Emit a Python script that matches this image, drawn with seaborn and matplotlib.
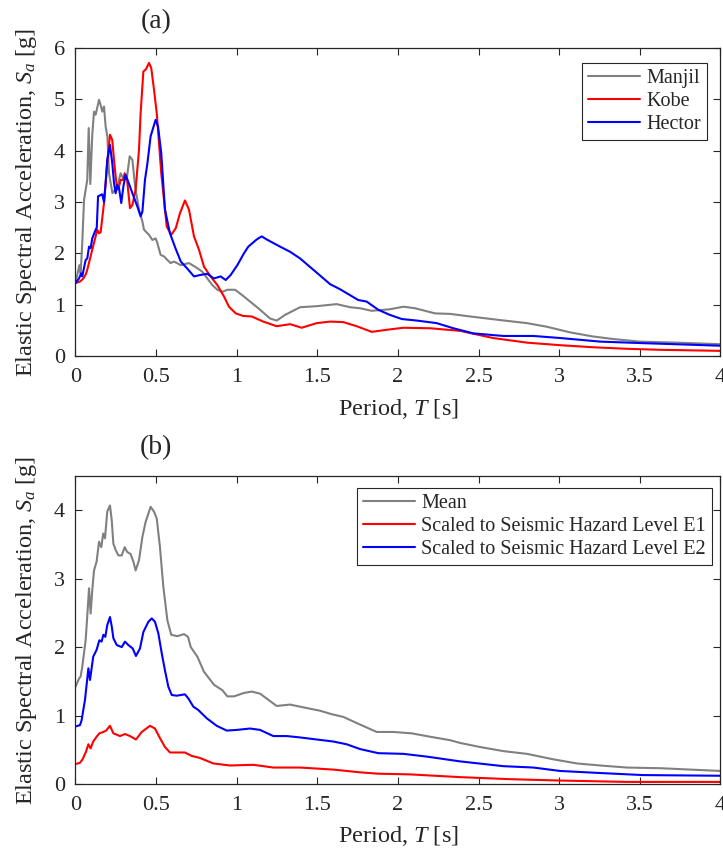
import numpy as np
import pandas as pd
import seaborn as sns
import matplotlib.pyplot as plt
from matplotlib.ticker import FixedLocator

# ---- panel (a): individual records ----
manjil_t = [0.0, 0.024, 0.032, 0.042, 0.053, 0.073, 0.082, 0.092, 0.104, 0.115, 0.125,
            0.146, 0.156, 0.166, 0.177, 0.187, 0.198, 0.208, 0.229, 0.26, 0.28, 0.30,
            0.32, 0.336, 0.353, 0.37, 0.394, 0.415, 0.425, 0.456, 0.477, 0.497, 0.508,
            0.528, 0.549, 0.57, 0.59, 0.611, 0.653, 0.704, 0.756, 0.787, 0.818, 0.849,
            0.88, 0.911, 0.942, 0.99, 1.04, 1.134, 1.207, 1.248, 1.30, 1.393, 1.496,
            1.558, 1.62, 1.703, 1.765, 1.837, 1.95, 2.034, 2.106, 2.23, 2.323, 2.447,
            2.633, 2.80, 2.923, 3.068, 3.21, 3.336, 3.50, 3.73, 4.0]
manjil_sa = [1.42, 1.77, 1.61, 2.20, 3.04, 3.43, 4.44, 3.35, 4.30, 4.76, 4.70,
             4.99, 4.89, 4.76, 4.86, 4.47, 4.27, 3.56, 3.17, 3.30, 3.56, 3.43,
             3.50, 3.89, 3.82, 3.30, 2.85, 2.62, 2.46, 2.36, 2.26, 2.29, 2.20,
             1.97, 1.94, 1.87, 1.81, 1.84, 1.77, 1.81, 1.71, 1.64, 1.51, 1.38,
             1.29, 1.25, 1.29, 1.29, 1.17, 0.93, 0.73, 0.69, 0.80, 0.95, 0.97,
             0.99, 1.01, 0.95, 0.93, 0.88, 0.91, 0.96, 0.93, 0.83, 0.82, 0.77,
             0.70, 0.64, 0.57, 0.46, 0.38, 0.33, 0.28, 0.26, 0.23]

kobe_t = [0.0, 0.028, 0.049, 0.065, 0.073, 0.104, 0.125, 0.135, 0.146, 0.156, 0.177,
          0.197, 0.214, 0.228, 0.239, 0.249, 0.259, 0.27, 0.28, 0.297, 0.305, 0.32,
          0.338, 0.353, 0.373, 0.394, 0.404, 0.421, 0.438, 0.456, 0.47, 0.487, 0.504,
          0.518, 0.532, 0.549, 0.566, 0.594, 0.622, 0.648, 0.679, 0.704, 0.735, 0.766,
          0.797, 0.838, 0.88, 0.921, 0.952, 0.994, 1.04, 1.093, 1.165, 1.248, 1.331,
          1.403, 1.496, 1.579, 1.661, 1.744, 1.837, 1.93, 2.034, 2.2, 2.385, 2.59,
          2.8, 3.006, 3.21, 3.42, 3.63, 4.0]
kobe_sa = [1.42, 1.45, 1.51, 1.60, 1.68, 2.07, 2.33, 2.46, 2.39, 2.41, 2.98,
           3.76, 4.31, 4.21, 3.82, 3.50, 3.24, 3.30, 3.43, 3.43, 3.56, 3.43,
           2.88, 2.94, 3.24, 4.02, 4.73, 5.54, 5.59, 5.71, 5.61, 5.19, 4.73,
           4.15, 3.56, 3.04, 2.52, 2.36, 2.49, 2.78, 3.03, 2.85, 2.33, 2.07,
           1.74, 1.55, 1.38, 1.16, 0.96, 0.83, 0.78, 0.77, 0.67, 0.58, 0.62,
           0.55, 0.64, 0.67, 0.66, 0.58, 0.47, 0.51, 0.55, 0.54, 0.49, 0.35,
           0.26, 0.21, 0.17, 0.14, 0.12, 0.10]

hector_t = [0.0, 0.022, 0.035, 0.042, 0.063, 0.073, 0.084, 0.094, 0.104, 0.125, 0.132,
            0.14, 0.166, 0.177, 0.187, 0.197, 0.214, 0.228, 0.239, 0.249, 0.259, 0.27,
            0.284, 0.297, 0.311, 0.33, 0.353, 0.384, 0.404, 0.415, 0.431, 0.446, 0.466,
            0.497, 0.512, 0.532, 0.555, 0.586, 0.62, 0.653, 0.694, 0.735, 0.777, 0.818,
            0.859, 0.90, 0.932, 0.963, 1.004, 1.045, 1.072, 1.124, 1.155, 1.186, 1.269,
            1.331, 1.393, 1.475, 1.579, 1.641, 1.754, 1.806, 1.878, 1.95, 2.024, 2.117,
            2.24, 2.344, 2.468, 2.654, 2.84, 3.006, 3.254, 3.52, 4.0]
hector_sa = [1.42, 1.51, 1.61, 1.55, 1.87, 1.90, 2.13, 2.10, 2.29, 2.46, 2.50,
             3.11, 3.15, 3.00, 3.37, 3.82, 4.11, 3.76, 3.37, 3.17, 3.33, 3.27,
             2.98, 3.30, 3.53, 3.37, 3.17, 2.91, 2.72, 2.81, 3.43, 3.75, 4.28,
             4.60, 4.47, 3.95, 2.85, 2.39, 2.10, 1.84, 1.70, 1.55, 1.58, 1.60,
             1.51, 1.55, 1.48, 1.58, 1.77, 2.00, 2.13, 2.27, 2.33, 2.27, 2.13,
             2.03, 1.90, 1.68, 1.40, 1.30, 1.09, 1.06, 0.90, 0.80, 0.72, 0.69,
             0.64, 0.54, 0.44, 0.39, 0.39, 0.35, 0.28, 0.25, 0.20]

# ---- panel (b): mean and scaled spectra ----
mean_t = [0.0, 0.022, 0.032, 0.042, 0.063, 0.073, 0.084, 0.094, 0.104, 0.115, 0.131,
          0.146, 0.16, 0.172, 0.183, 0.197, 0.214, 0.225, 0.235, 0.249, 0.266, 0.287,
          0.305, 0.321, 0.342, 0.359, 0.373, 0.394, 0.415, 0.435, 0.466, 0.487, 0.504,
          0.524, 0.545, 0.57, 0.594, 0.632, 0.673, 0.698, 0.715, 0.756, 0.797, 0.859,
          0.911, 0.942, 0.983, 1.045, 1.093, 1.145, 1.196, 1.248, 1.331, 1.413, 1.517,
          1.589, 1.661, 1.754, 1.868, 1.971, 2.085, 2.2, 2.323, 2.385, 2.509, 2.654,
          2.8, 2.964, 3.11, 3.254, 3.42, 3.63, 4.0]
mean_sa = [1.42, 1.54, 1.57, 1.71, 2.10, 2.45, 2.86, 2.49, 2.83, 3.12, 3.25,
           3.54, 3.46, 3.66, 3.59, 3.98, 4.07, 3.85, 3.51, 3.42, 3.34, 3.34,
           3.46, 3.39, 3.36, 3.25, 3.12, 3.27, 3.61, 3.83, 4.05, 3.98, 3.88,
           3.46, 2.88, 2.39, 2.18, 2.16, 2.19, 2.15, 2.00, 1.86, 1.64, 1.45,
           1.37, 1.28, 1.28, 1.33, 1.35, 1.32, 1.23, 1.14, 1.16, 1.12, 1.07,
           1.02, 0.98, 0.88, 0.76, 0.76, 0.74, 0.69, 0.64, 0.60, 0.54, 0.48,
           0.44, 0.36, 0.30, 0.27, 0.24, 0.23, 0.19]

e1_t = [0.0, 0.028, 0.044, 0.065, 0.08, 0.094, 0.11, 0.131, 0.148, 0.173, 0.19,
        0.214, 0.235, 0.276, 0.307, 0.338, 0.375, 0.411, 0.462, 0.493, 0.524, 0.555,
        0.586, 0.679, 0.721, 0.772, 0.855, 0.958, 1.103, 1.227, 1.393, 1.6, 1.765,
        1.878, 2.075, 2.385, 2.695, 3.006, 3.42, 4.0]
e1_sa = [0.29, 0.31, 0.36, 0.47, 0.58, 0.52, 0.62, 0.69, 0.74, 0.76, 0.78,
         0.85, 0.74, 0.70, 0.73, 0.70, 0.65, 0.76, 0.85, 0.81, 0.67, 0.54,
         0.46, 0.46, 0.41, 0.38, 0.30, 0.27, 0.28, 0.24, 0.24, 0.21, 0.17,
         0.15, 0.14, 0.10, 0.07, 0.05, 0.03, 0.03]

e2_t = [0.0, 0.028, 0.038, 0.059, 0.08, 0.09, 0.11, 0.131, 0.148, 0.162, 0.173,
        0.185, 0.197, 0.214, 0.225, 0.235, 0.256, 0.287, 0.307, 0.328, 0.355, 0.375,
        0.40, 0.421, 0.452, 0.473, 0.493, 0.514, 0.535, 0.555, 0.576, 0.597, 0.628,
        0.679, 0.70, 0.731, 0.762, 0.814, 0.876, 0.938, 1.0, 1.083, 1.145, 1.227,
        1.31, 1.393, 1.496, 1.6, 1.682, 1.765, 1.878, 2.034, 2.179, 2.385, 2.654,
        2.84, 3.006, 3.254, 3.52, 4.0]
e2_sa = [0.84, 0.86, 0.93, 1.23, 1.69, 1.52, 1.86, 1.96, 2.10, 2.08, 2.18,
         2.15, 2.32, 2.44, 2.30, 2.13, 2.03, 2.00, 2.08, 2.03, 1.98, 1.87,
         1.98, 2.22, 2.37, 2.42, 2.37, 2.20, 1.91, 1.66, 1.42, 1.30, 1.29,
         1.31, 1.25, 1.13, 1.08, 0.96, 0.85, 0.78, 0.79, 0.81, 0.79, 0.70,
         0.70, 0.68, 0.65, 0.62, 0.58, 0.51, 0.45, 0.44, 0.40, 0.33, 0.26,
         0.24, 0.19, 0.16, 0.13, 0.12]

x_ticks = [0, 0.5, 1, 1.5, 2, 2.5, 3, 3.5, 4]
x_tick_labels = ['0', '0.5', '1', '1.5', '2', '2.5', '3', '3.5', '4']


def long_form(pairs):
    frames = []
    for name, t, sa in pairs:
        frames.append(pd.DataFrame({'T': t, 'Sa': sa, 'series': name}))
    return pd.concat(frames, ignore_index=True)


def style_axes(ax, ymax):
    ax.set_xlim(0, 4)
    ax.set_ylim(0, ymax)
    ax.xaxis.set_major_locator(FixedLocator(x_ticks))
    ax.set_xticklabels(x_tick_labels)
    ax.set_yticks(range(0, int(ymax) + 1))
    ax.tick_params(direction='in', top=True, right=True, length=5, width=0.8,
                   labelsize=16, colors='#262626')
    ax.tick_params(axis='x', pad=9)
    ax.tick_params(axis='y', pad=7.5)
    for s in ax.spines.values():
        s.set_visible(True)
        s.set_linewidth(0.9)
        s.set_color('#262626')
    ax.set_xlabel('Period, $T$ [s]', fontsize=17.5, labelpad=6.5)
    ax.set_ylabel('Elastic Spectral Acceleration, $S_a$ [g]', fontsize=17.5, labelpad=11)


sns.set_style("ticks")
plt.rcParams['font.family'] = ['Liberation Serif', 'DejaVu Serif']
plt.rcParams['mathtext.fontset'] = 'custom'
plt.rcParams['mathtext.rm'] = 'Liberation Serif'
plt.rcParams['mathtext.it'] = 'Liberation Serif:italic'

fig = plt.figure(figsize=(7.23, 8.49), dpi=100)
ax_a = fig.add_axes([0.1044, 0.5807, 0.892, 0.3628])
ax_b = fig.add_axes([0.1044, 0.0766, 0.892, 0.3627])

# panel (a)
data_a = long_form([('Manjil', manjil_t, manjil_sa),
                    ('Kobe', kobe_t, kobe_sa),
                    ('Hector', hector_t, hector_sa)])
sns.lineplot(data=data_a, x='T', y='Sa', hue='series', ax=ax_a, linewidth=1.5,
             palette={'Manjil': '#808080', 'Kobe': '#ff0000', 'Hector': '#0000ff'},
             estimator=None, sort=False)
style_axes(ax_a, 6)
leg = ax_a.legend(loc='upper right', bbox_to_anchor=(0.979, 0.951), borderaxespad=0,
                  fontsize=14.5, fancybox=False, edgecolor='#262626', framealpha=1,
                  handlelength=2.6, handletextpad=0.3, labelspacing=0.18, borderpad=0.3)
leg.get_frame().set_linewidth(0.8)
ax_a.text(0.5, 1.084, '(a)', transform=ax_a.get_xaxis_transform(),
          ha='center', va='center', fontsize=20)

# panel (b)
data_b = long_form([('Mean', mean_t, mean_sa),
                    ('Scaled to Seismic Hazard Level E1', e1_t, e1_sa),
                    ('Scaled to Seismic Hazard Level E2', e2_t, e2_sa)])
sns.lineplot(data=data_b, x='T', y='Sa', hue='series', ax=ax_b, linewidth=1.5,
             palette={'Mean': '#808080',
                      'Scaled to Seismic Hazard Level E1': '#ff0000',
                      'Scaled to Seismic Hazard Level E2': '#0000ff'},
             estimator=None, sort=False)
style_axes(ax_b, 4.5)
ax_b.set_yticks([0, 1, 2, 3, 4])
leg = ax_b.legend(loc='upper right', bbox_to_anchor=(0.987, 0.961), borderaxespad=0,
                  fontsize=14.5, fancybox=False, edgecolor='#262626', framealpha=1,
                  handlelength=2.6, handletextpad=0.3, labelspacing=0.18, borderpad=0.3)
leg.get_frame().set_linewidth(0.8)
ax_b.text(0.5, 1.091, '(b)', transform=ax_b.get_xaxis_transform(),
          ha='center', va='center', fontsize=20)

fig.savefig('out.png', dpi=100)
